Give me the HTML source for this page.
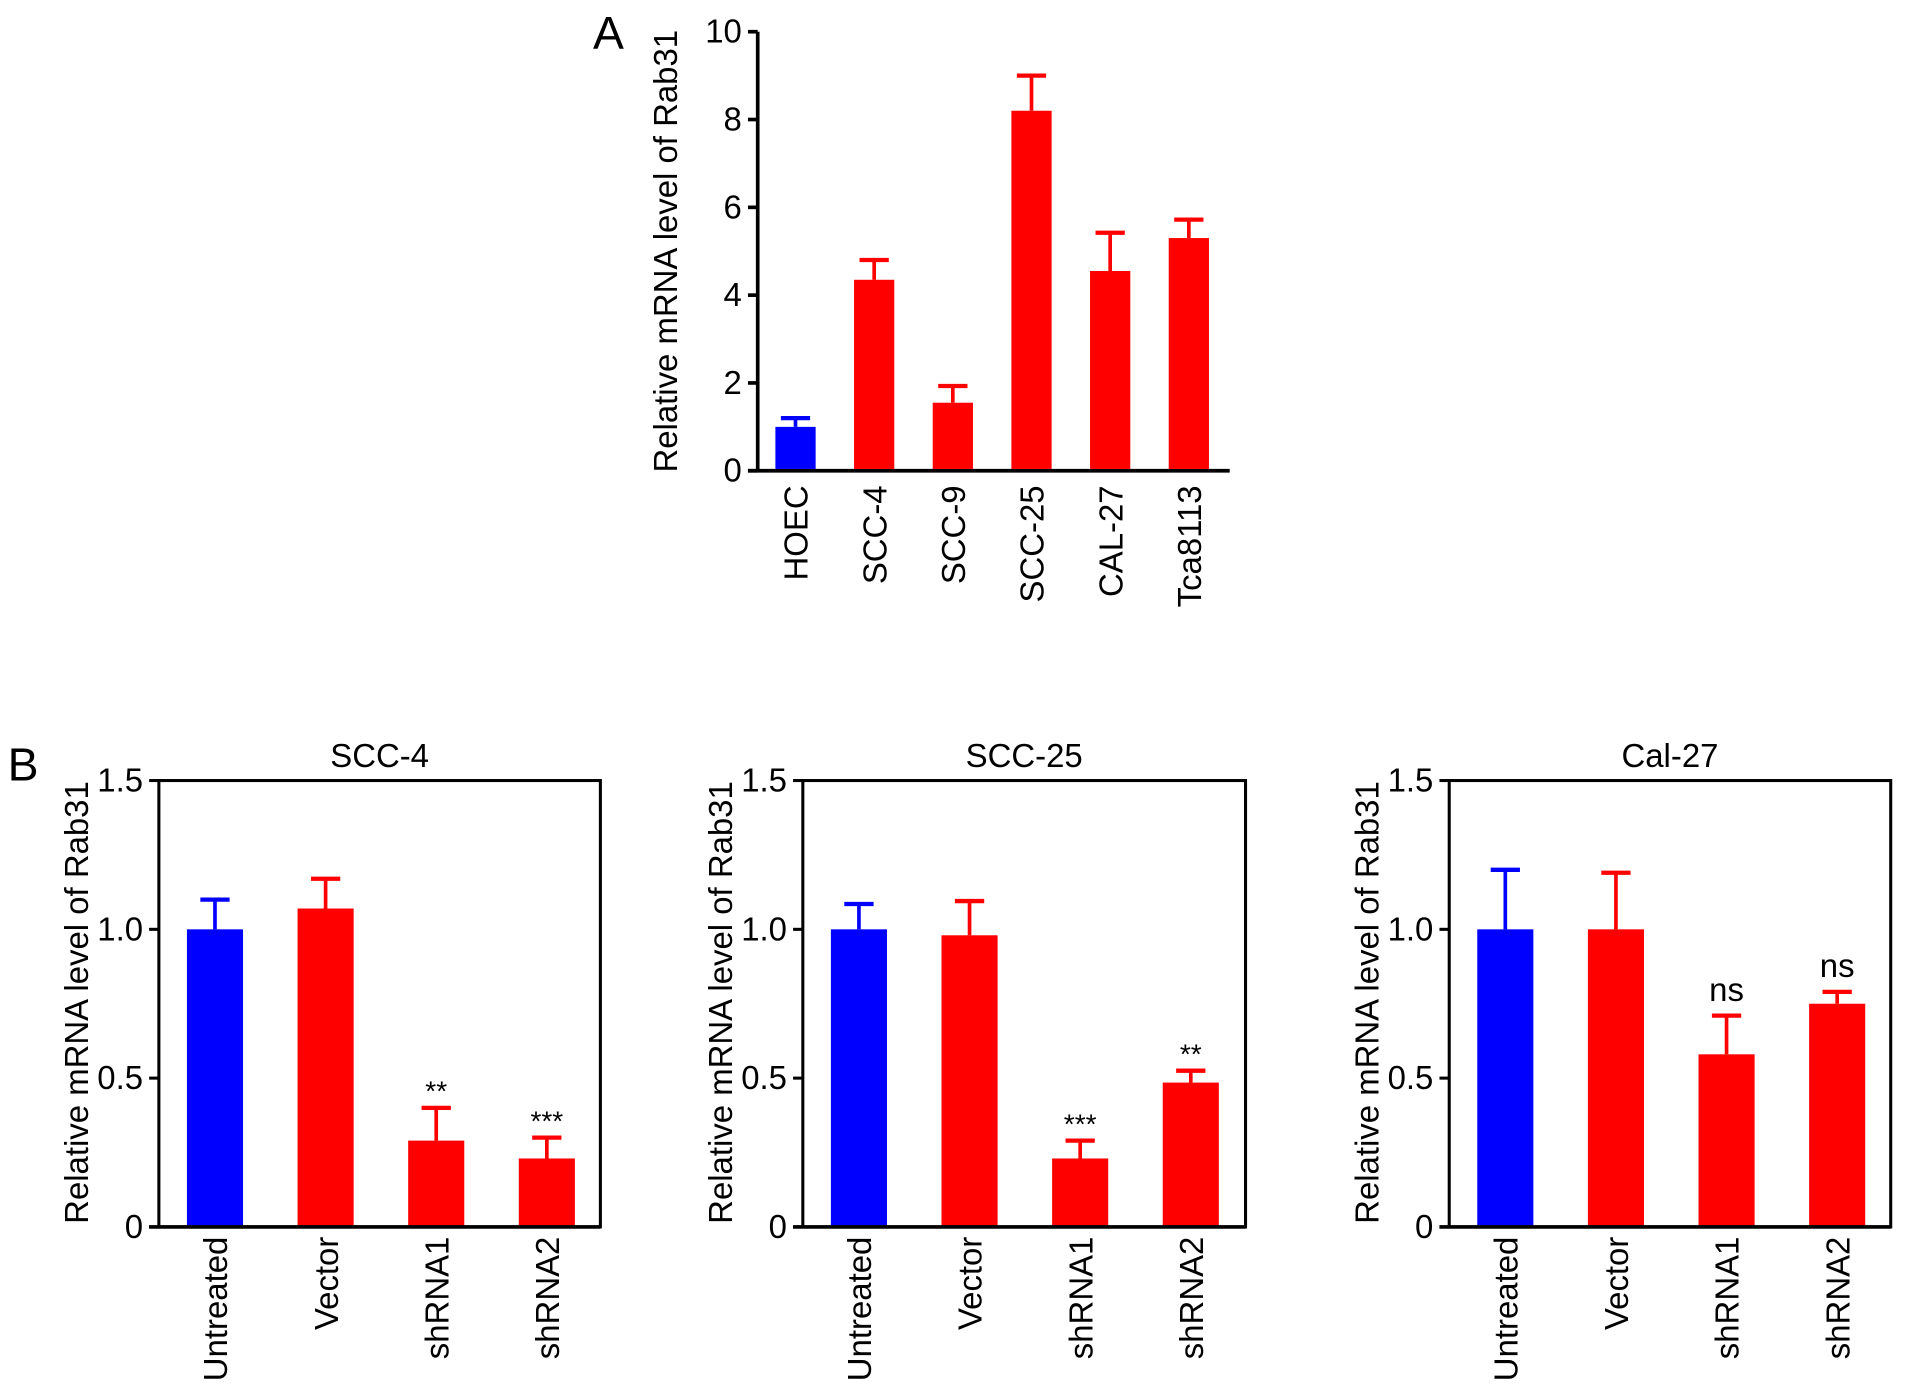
<!DOCTYPE html>
<html><head><meta charset="utf-8"><style>
html,body{margin:0;padding:0;background:#fff;}
svg{display:block;font-family:"Liberation Sans",Arial,sans-serif;}
</style></head><body>
<svg id="fig" width="1913" height="1394" viewBox="0 0 1568 1143" xmlns="http://www.w3.org/2000/svg">
<rect width="1568" height="1143" fill="#fff"/>
<text x="486" y="40" font-size="38">A</text>
<text x="6" y="640" font-size="38">B</text>
<g id="charts"></g>
</svg>
<script>
// Panel A data
const catsA = ["HOEC","SCC-4","SCC-9","SCC-25","CAL-27","Tca8113"];
const valsA = [1.0, 4.35, 1.55, 8.2, 4.55, 5.3];
const errA = [0.2, 0.45, 0.38, 0.8, 0.87, 0.42];
const colorsA = ["#0000ff","#ff0000","#ff0000","#ff0000","#ff0000","#ff0000"];
const ticksA = [0,2,4,6,8,10];

// Panel B data
const catsB = ["Untreated","Vector","shRNA1","shRNA2"];
const titlesB = ["SCC-4","SCC-25","Cal-27"];
const valsB1 = [1.0, 1.07, 0.29, 0.23];
const errB1 = [0.10, 0.10, 0.11, 0.07];
const sigB1 = ["", "", "**", "***"];
const valsB2 = [1.0, 0.98, 0.23, 0.485];
const errB2 = [0.085, 0.115, 0.06, 0.04];
const sigB2 = ["", "", "***", "**"];
const valsB3 = [1.0, 1.0, 0.58, 0.75];
const errB3 = [0.2, 0.19, 0.13, 0.04];
const sigB3 = ["", "", "ns", "ns"];
const ticksB = [0, 0.5, 1.0, 1.5];
const tickLabelsB = ["0","0.5","1.0","1.5"];

const FS=27;
const NS="http://www.w3.org/2000/svg";
const root=document.getElementById('charts');
function mk(tag,attrs,parent,text){const e=document.createElementNS(NS,tag);for(const k in attrs)e.setAttribute(k,attrs[k]);if(text!==undefined)e.textContent=text;(parent||root).appendChild(e);return e;}

// ---- Panel A ----
(function(){
  const g=mk('g',{});
  
  
  const x0=621,x1=1008,y0=386,y1=26,ymax=10;
  const ys=v=>y0-(v/ymax)*(y0-y1);
  const step=64.5, first=652, bw=33;
  const xs=i=>first+i*step;
  mk('line',{x1:x0,y1:y1,x2:x0,y2:y0,stroke:'#000','stroke-width':3},g);
  mk('line',{x1:x0-8,y1:y0,x2:x1,y2:y0,stroke:'#000','stroke-width':3},g);
  ticksA.forEach(t=>{
    mk('line',{x1:x0-8,y1:ys(t),x2:x0,y2:ys(t),stroke:'#000','stroke-width':3},g);
    const tl=mk('text',{x:x0-13,y:ys(t)+9,'font-size':FS,'text-anchor':'end'},g,String(t));
    
    
  });
  const yt=mk('text',{x:0,y:0,'font-size':FS,'text-anchor':'middle',transform:`translate(555,${(y0+y1)/2}) rotate(-90)`},g,'Relative mRNA level of Rab31');
  
  
  catsA.forEach((c,i)=>{
    const cx=xs(i);
    const top=ys(valsA[i]+errA[i]);
    mk('line',{x1:cx,y1:ys(valsA[i]),x2:cx,y2:top,stroke:colorsA[i],'stroke-width':3},g);
    mk('line',{x1:cx-12,y1:top,x2:cx+12,y2:top,stroke:colorsA[i],'stroke-width':3.5},g);
    const b=mk('rect',{x:cx-bw/2,y:ys(valsA[i]),width:bw,height:y0-1.5-ys(valsA[i]),fill:colorsA[i]},g);
    
    
    const l=mk('text',{x:0,y:0,'font-size':FS,'text-anchor':'end',transform:`translate(${cx+10},398) rotate(-90)`},g,c);
    
    
  });
})();

// ---- Panel B ----
const panelsB=[
  {left:130,right:492,vals:valsB1,err:errB1,sig:sigB1,title:titlesB[0],first:176},
  {left:658,right:1021,vals:valsB2,err:errB2,sig:sigB2,title:titlesB[1],first:704},
  {left:1188,right:1550,vals:valsB3,err:errB3,sig:sigB3,title:titlesB[2],first:1234}
];
panelsB.forEach((p,pi)=>{
  const g=mk('g',{});
  
  
  const y0=1006,y1=640,ymax=1.5;
  const ys=v=>y0-(v/ymax)*(y0-y1);
  const step=90.7,bw=46;
  const colors=["#0000ff","#ff0000","#ff0000","#ff0000"];
  const t=mk('text',{x:(p.left+p.right)/2,y:629,'font-size':FS,'text-anchor':'middle'},g,p.title);
  
  
  catsB.forEach((c,i)=>{
    const cx=p.first+i*step;
    const v=p.vals[i],top=ys(v+p.err[i]);
    mk('line',{x1:cx,y1:ys(v),x2:cx,y2:top,stroke:colors[i],'stroke-width':3},g);
    mk('line',{x1:cx-12,y1:top,x2:cx+12,y2:top,stroke:colors[i],'stroke-width':3.5},g);
    const b=mk('rect',{x:cx-bw/2,y:ys(v),width:bw,height:y0-ys(v),fill:colors[i]},g);
    
    
    if(p.sig[i]){
      const isStar=p.sig[i].indexOf('*')>=0;
      const s=mk('text',{x:cx,y:top-(isStar?6:12),'font-size':isStar?23:FS,'text-anchor':'middle'},g,p.sig[i]);
      
      
    }
    const l=mk('text',{x:0,y:0,'font-size':FS,'text-anchor':'end',transform:`translate(${cx+10},1014) rotate(-90)`},g,c);
    
    
  });
  mk('rect',{x:p.left,y:y1,width:p.right-p.left,height:y0-y1,fill:'none',stroke:'#000','stroke-width':2.5},g);
  mk('line',{x1:p.left-8,y1:y0,x2:p.right,y2:y0,stroke:'#000','stroke-width':3},g);
  ticksB.forEach((tv,ti)=>{
    mk('line',{x1:p.left-8,y1:ys(tv),x2:p.left,y2:ys(tv),stroke:'#000','stroke-width':2.5},g);
    const tl=mk('text',{x:p.left-13,y:ys(tv)+9,'font-size':FS,'text-anchor':'end'},g,tickLabelsB[ti]);
    
    
  });
  const yt=mk('text',{x:0,y:0,'font-size':FS,'text-anchor':'middle',transform:`translate(${p.left-58},822) rotate(-90)`},g,'Relative mRNA level of Rab31');
  
  
});
</script>
</body></html>
